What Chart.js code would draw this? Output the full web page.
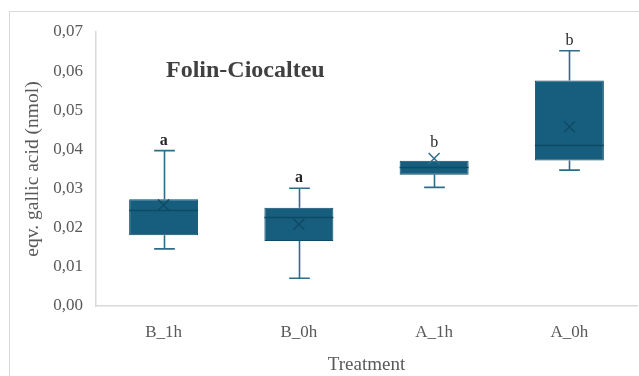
<!DOCTYPE html>
<html>
<head>
<meta charset="utf-8">
<script src="https://cdn.jsdelivr.net/npm/chart.js@4/dist/chart.umd.min.js"></script>
<style>
  html, body { margin: 0; padding: 0; background: #ffffff; }
  #wrap { width: 639px; height: 376px; }
</style>
</head>
<body>
<div id="wrap"><canvas id="c" width="639" height="376"></canvas></div>
<script>
// Treatments on the x axis
const categories = ['B_1h', 'B_0h', 'A_1h', 'A_0h'];

// Box-plot statistics per treatment (eqv. gallic acid, nmol)
const whiskerLow  = [0.0146, 0.0071, 0.0303, 0.0347];
const quartile1   = [0.0181, 0.0166, 0.0335, 0.0372];
const medianVals  = [0.0245, 0.0227, 0.0354, 0.0411];
const quartile3   = [0.0273, 0.0251, 0.0371, 0.0576];
const whiskerHigh = [0.0397, 0.0301, 0.0371, 0.0652];
const meanVals    = [0.0258, 0.0209, 0.0377, 0.0458];

// Significance letters above each box
const groupLetters = ['a', 'a', 'b', 'b'];

// Y-axis tick labels (decimal comma)
const yTickLabels = ['0,00', '0,01', '0,02', '0,03', '0,04', '0,05', '0,06', '0,07'];

const SERIF = "'Liberation Serif', 'Times New Roman', serif";
const BOX_FILL = '#175e7e';
const BOX_EDGE = '#0f4a66';
const WHISKER = '#2f6c89';

// Outer frame around the whole chart
const framePlugin = {
  id: 'frame',
  beforeDraw(chart) {
    const ctx = chart.ctx;
    ctx.save();
    ctx.strokeStyle = '#d9d9d9';
    ctx.lineWidth = 1;
    ctx.beginPath();
    ctx.moveTo(9.5, chart.height + 2);
    ctx.lineTo(9.5, 11.5);
    ctx.lineTo(chart.width + 2, 11.5);
    ctx.stroke();
    ctx.restore();
  }
};

// Whiskers behind the boxes; medians, means, letters and title on top
const boxPlotPlugin = {
  id: 'boxExtras',
  beforeDatasetsDraw(chart) {
    const ctx = chart.ctx;
    const y = chart.scales.y;
    const meta = chart.getDatasetMeta(0);
    ctx.save();
    ctx.strokeStyle = WHISKER;
    ctx.lineWidth = 1.6;
    meta.data.forEach((bar, i) => {
      const x = Math.round(bar.x) + 0.5;
      const capHalf = bar.width * 0.15;
      const yHi = y.getPixelForValue(whiskerHigh[i]);
      const yLo = y.getPixelForValue(whiskerLow[i]);
      const yQ1 = y.getPixelForValue(quartile1[i]);
      const yQ3 = y.getPixelForValue(quartile3[i]);
      ctx.beginPath();
      ctx.moveTo(x, yHi); ctx.lineTo(x, yQ3);
      ctx.moveTo(x, yQ1); ctx.lineTo(x, yLo);
      if (whiskerHigh[i] > quartile3[i]) {
        ctx.moveTo(x - capHalf, yHi); ctx.lineTo(x + capHalf, yHi);
      }
      ctx.moveTo(x - capHalf, yLo); ctx.lineTo(x + capHalf, yLo);
      ctx.stroke();
    });
    ctx.restore();
  },
  afterDatasetsDraw(chart) {
    const ctx = chart.ctx;
    const y = chart.scales.y;
    const meta = chart.getDatasetMeta(0);
    ctx.save();
    meta.data.forEach((bar, i) => {
      const x = bar.x;
      const half = bar.width / 2;
      // median
      const yMed = Math.round(y.getPixelForValue(medianVals[i])) + 0.5;
      ctx.strokeStyle = BOX_EDGE;
      ctx.lineWidth = 1.4;
      ctx.beginPath();
      ctx.moveTo(x - half, yMed); ctx.lineTo(x + half, yMed);
      ctx.stroke();
      // mean marker (x)
      const yMean = y.getPixelForValue(meanVals[i]);
      const m = 5.5;
      ctx.strokeStyle = meanVals[i] > quartile3[i] ? WHISKER : BOX_EDGE;
      ctx.lineWidth = 1.5;
      ctx.beginPath();
      ctx.moveTo(x - m, yMean - m); ctx.lineTo(x + m, yMean + m);
      ctx.moveTo(x + m, yMean - m); ctx.lineTo(x - m, yMean + m);
      ctx.stroke();
      // significance letter
      const topVal = Math.max(whiskerHigh[i], meanVals[i]);
      const extra = meanVals[i] > whiskerHigh[i] ? m : 0;
      const yTop = y.getPixelForValue(topVal) - extra;
      ctx.fillStyle = '#262626';
      ctx.font = (groupLetters[i] === 'a' ? 'bold ' : '') + '16px ' + SERIF;
      ctx.textAlign = 'center';
      ctx.textBaseline = 'alphabetic';
      ctx.fillText(groupLetters[i], x, yTop - 6);
    });
    // chart title inside the plot area
    ctx.fillStyle = '#404040';
    ctx.font = 'bold 24px ' + SERIF;
    ctx.textAlign = 'left';
    ctx.textBaseline = 'middle';
    ctx.fillText('Folin-Ciocalteu', 166, 71);
    ctx.restore();
  }
};

new Chart(document.getElementById('c'), {
  type: 'bar',
  data: {
    labels: categories,
    datasets: [{
      data: categories.map((_, i) => [quartile1[i], quartile3[i]]),
      backgroundColor: BOX_FILL,
      borderColor: BOX_EDGE,
      borderWidth: 1,
      borderSkipped: false,
      categoryPercentage: 1.0,
      barPercentage: 0.51
    }]
  },
  options: {
    responsive: false,
    animation: false,
    devicePixelRatio: 1,
    layout: { padding: { left: 0, right: 2, top: 32, bottom: 0 } },
    plugins: {
      legend: { display: false },
      tooltip: { enabled: false }
    },
    scales: {
      x: {
        grid: { display: false },
        border: { display: true, color: '#d9d9d9', width: 1.5 },
        ticks: {
          color: '#595959',
          font: { family: SERIF, size: 17 },
          padding: 8
        },
        title: {
          display: true,
          text: 'Treatment',
          color: '#595959',
          font: { family: SERIF, size: 19 },
          padding: { top: 0, bottom: 0 }
        },
        afterFit(scale) { scale.height = 70; }
      },
      y: {
        min: 0,
        max: 0.07,
        grid: { display: false },
        border: { display: true, color: '#d9d9d9', width: 1.5 },
        ticks: {
          stepSize: 0.01,
          color: '#595959',
          font: { family: SERIF, size: 17 },
          padding: 5,
          callback: (value, index) => yTickLabels[index]
        },
        title: {
          display: true,
          text: 'eqv. gallic acid (nmol)',
          color: '#595959',
          font: { family: SERIF, size: 19.5 },
          padding: { top: 21, bottom: 0 }
        },
        afterFit(scale) { scale.width = 96; }
      }
    }
  },
  plugins: [framePlugin, boxPlotPlugin]
});
</script>
</body>
</html>
